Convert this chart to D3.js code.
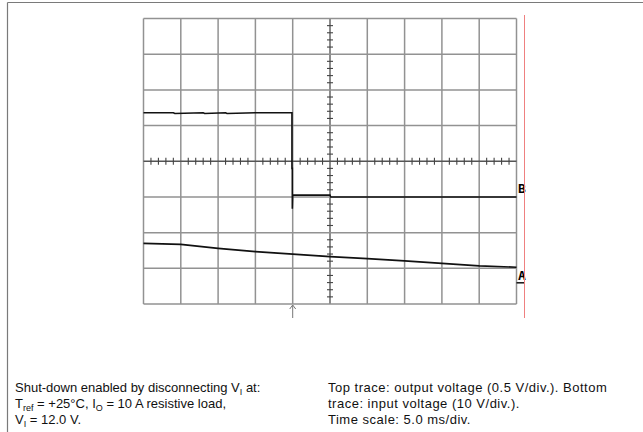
<!DOCTYPE html>
<html>
<head>
<meta charset="utf-8">
<script src="https://cdn.jsdelivr.net/npm/d3@7"></script>
<style>
  body { margin: 0; background: #fff; }
  svg { display: block; font-family: "Liberation Sans", Arial, sans-serif; }
</style>
</head>
<body>
<svg id="scope" width="643" height="432"></svg>
<script>
// time in ms (5 ms/div), trace levels in divisions from screen centre
var timeTicks = d3.range(-25, 26, 5);
var divTicks = d3.range(-4, 5, 1);
var triggerTime = -5;

// top trace (B): output voltage
var outTime = [-25, -21, -20.8, -17, -16.8, -14, -13.8, -10, -9.8, -5.1, -5.1, -5.05, -5.05, -5, 0, 0.1, 25];
var outDiv  = [1.36, 1.36, 1.34, 1.36, 1.34, 1.36, 1.34, 1.36, 1.36, 1.36, -0.2, -0.2, -1.33, -0.95, -0.95, -1, -1];

// bottom trace (A): input voltage
var inTime = [-25, -20, -15, -10, -5, 0, 5, 10, 15, 20, 25];
var inDiv  = [-2.30, -2.33, -2.44, -2.53, -2.60, -2.67, -2.73, -2.79, -2.86, -2.93, -2.97];

var noteLeft = [
  [['Shut-down enabled by disconnecting V', ''], ['I', 'sub'], [' at:', '']],
  [['T', ''], ['ref', 'sub'], [' = +25°C, I', ''], ['O', 'sub'], [' = 10 A resistive load,', '']],
  [['V', ''], ['I', 'sub'], [' = 12.0 V.', '']]
];
var noteRight = [
  'Top trace: output voltage (0.5 V/div.). Bottom',
  'trace: input voltage (10 V/div.).',
  'Time scale: 5.0 ms/div.'
];

var svg = d3.select('#scope');

// page frame
svg.append('line').attr('x1', 7.5).attr('x2', 643).attr('y1', 2.5).attr('y2', 2.5)
   .style('stroke', '#7a7a7a').style('stroke-width', 1.2);
svg.append('line').attr('x1', 7.5).attr('x2', 7.5).attr('y1', 2.5).attr('y2', 432)
   .style('stroke', '#7a7a7a').style('stroke-width', 1.2);

var x = d3.scaleLinear().domain([-25, 25]).range([143.5, 516.5]);
var y = d3.scaleLinear().domain([-4, 4]).range([304, 18.5]);

var grid = svg.append('g');
//vertical grid lines
grid.selectAll('.vgrid')
  .data(timeTicks)
  .enter().append('line')
  .attr('class', 'vgrid')
  .attr('x1', function(d){ return x(d); })
  .attr('x2', function(d){ return x(d); })
  .attr('y1', y(4))
  .attr('y2', y(-4))
  .style('stroke', function(d){ return d === 0 ? '#666' : '#929292'; })
  .style('stroke-width', 1.5);
//horizontal grid lines
grid.selectAll('.hgrid')
  .data(divTicks)
  .enter().append('line')
  .attr('class', 'hgrid')
  .attr('x1', x(-25))
  .attr('x2', x(25))
  .attr('y1', function(d){ return y(d); })
  .attr('y2', function(d){ return y(d); })
  .style('stroke', function(d){ return d === 0 ? '#555' : '#929292'; })
  .style('stroke-width', 1.5);

// minor ticks on the centre axes
var minorT = d3.range(-25, 25.01, 1).filter(function(t){ return Math.abs(t % 5) > 0.01; });
grid.selectAll('.tickx')
  .data(minorT)
  .enter().append('line')
  .attr('x1', function(d){ return x(d); })
  .attr('x2', function(d){ return x(d); })
  .attr('y1', y(0) - 3.5)
  .attr('y2', y(0) + 3.5)
  .style('stroke', '#444')
  .style('stroke-width', 1.1);
var minorD = d3.range(-4, 4.01, 0.2).filter(function(v){ return Math.abs(v - Math.round(v)) > 0.01; });
grid.selectAll('.ticky')
  .data(minorD)
  .enter().append('line')
  .attr('x1', x(0) - 3)
  .attr('x2', x(0) + 3)
  .attr('y1', function(d){ return y(d); })
  .attr('y2', function(d){ return y(d); })
  .style('stroke', '#444')
  .style('stroke-width', 1.1);

var line = d3.line()
  .x(function(d){ return x(d[0]); })
  .y(function(d){ return y(d[1]); });

svg.append('path')
  .datum(d3.zip(outTime, outDiv))
  .attr('d', line)
  .style('fill', 'none')
  .style('stroke', '#111')
  .style('stroke-width', 1.6);

svg.append('path')
  .datum(d3.zip(inTime, inDiv))
  .attr('d', line)
  .style('fill', 'none')
  .style('stroke', '#111')
  .style('stroke-width', 1.7);

// channel markers
svg.append('text').attr('x', x(25) + 1.5).attr('y', y(-1) - 3.5)
   .text('B').style('font-size', '13px').style('font-weight', 'bold')
   .style('font-family', '"DejaVu Sans Mono", monospace');
svg.append('text').attr('x', x(25) + 1.5).attr('y', y(-3.35) - 1)
   .text('A').style('font-size', '13px').style('font-weight', 'bold')
   .style('font-family', '"DejaVu Sans Mono", monospace');
svg.append('line').attr('x1', x(25)).attr('x2', x(25) + 8.5)
   .attr('y1', y(-3.35) + 2).attr('y2', y(-3.35) + 2)
   .style('stroke', '#111').style('stroke-width', 1.5);

// red marker line
svg.append('line').attr('x1', 524.5).attr('x2', 524.5).attr('y1', 15).attr('y2', 318)
   .style('stroke', '#ef8080').style('stroke-width', 1);

// trigger arrow
var ax = x(triggerTime);
svg.append('path')
  .attr('d', 'M' + ax + ',' + (y(-4) + 14) + 'V' + (y(-4) + 1) +
             'M' + (ax - 3) + ',' + (y(-4) + 5) + 'L' + ax + ',' + (y(-4) + 1) + 'L' + (ax + 3) + ',' + (y(-4) + 5))
  .style('fill', 'none')
  .style('stroke', '#777')
  .style('stroke-width', 1);

// notes
var notes = svg.append('g').style('font-size', '13px').style('fill', '#111');
noteLeft.forEach(function(parts, i){
  var t = notes.append('text').attr('x', 15).attr('y', 392 + i * 16);
  parts.forEach(function(p){
    var s = t.append('tspan').text(p[0]);
    if (p[1] === 'sub') s.style('font-size', '9px').attr('dy', 3);
    else if (t.selectAll('tspan').size() > 1) s.attr('dy', -3);
  });
});
noteRight.forEach(function(s, i){
  notes.append('text').attr('x', 328).attr('y', 392 + i * 16)
    .style('letter-spacing', '0.5px').text(s);
});
</script>
</body>
</html>
